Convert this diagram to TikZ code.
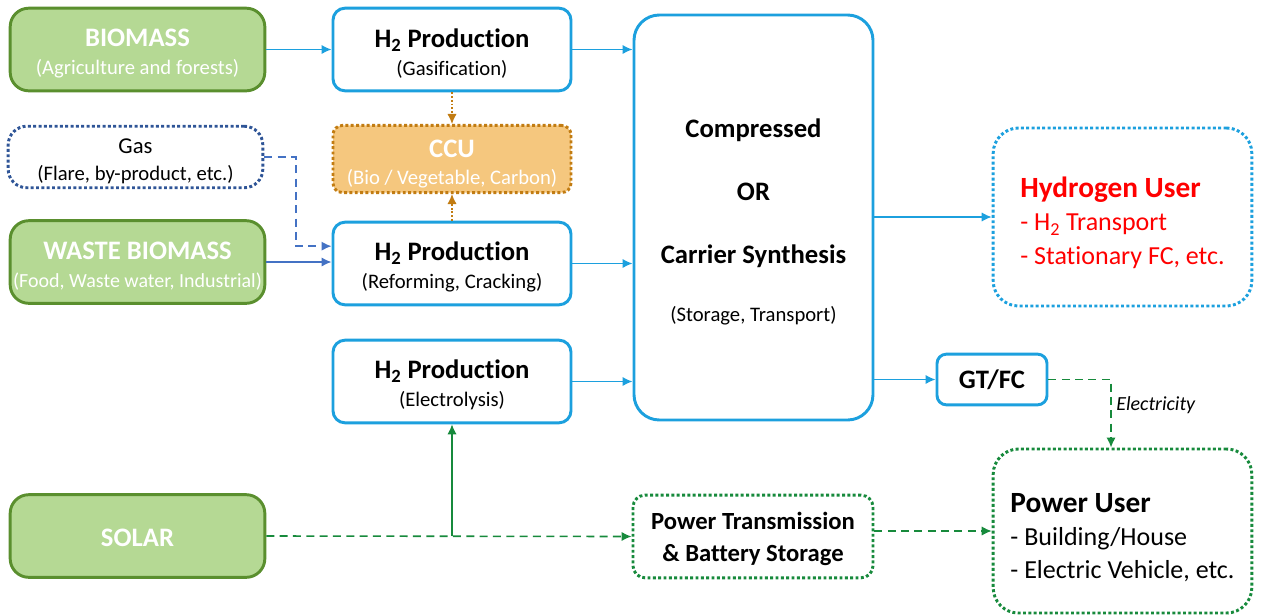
\documentclass[tikz,border=0pt]{standalone}
\usepackage{fontspec}
\setmainfont{Carlito}[Ligatures=NoCommon]
\usepackage{tikz}
\usetikzlibrary{arrows.meta,positioning}
\definecolor{leaf}{HTML}{B5D994}
\definecolor{leafdark}{HTML}{5A8F2E}
\definecolor{sky}{HTML}{1CA0DE}
\definecolor{steel}{HTML}{4472C4}
\definecolor{navy}{HTML}{2F5597}
\definecolor{amber}{HTML}{F5C77E}
\definecolor{amberdark}{HTML}{C27C12}
\definecolor{grid}{HTML}{178A3C}
\definecolor{alert}{HTML}{FF0000}
\newcommand{\Htwo}{H\textsubscript{2}}
\newcommand{\TitleFont}{\bfseries\fontsize{20}{21}\selectfont}
\newcommand{\SubFont}{\fontsize{15.5}{21}\selectfont}
% invisible strut on a first line, pushes the block a little down
\newcommand{\Drop}[1]{\rule{0pt}{#1}}
\tikzset{
  SourceBox/.style={
    draw=leafdark, fill=leaf, line width=2.2pt,
    rounded corners=14pt, text=white, align=center,
    minimum width=191pt, minimum height=62pt, font=\SubFont
  },
  ProcBox/.style={
    draw=sky, fill=white, line width=2.2pt,
    rounded corners=9pt, align=center,
    minimum width=178.5pt, minimum height=62pt, font=\SubFont
  },
  DotBox/.style={
    fill=white, line width=2.2pt, dash pattern=on 2.2pt off 1.8pt,
    rounded corners=14pt, align=center, font=\SubFont
  },
  UserBox/.style={
    DotBox, rounded corners=19pt, align=left,
    minimum width=194pt, font=\fontsize{19.5}{25}\selectfont
  },
  FlowArrow/.style={draw=sky, line width=1.2pt, -{Latex[length=7.5pt,width=7pt]}},
  GasArrow/.style={draw=steel, line width=1.2pt, -{Latex[length=7.5pt,width=7pt]}},
  CarbonArrow/.style={draw=amberdark, line width=1.1pt, dash pattern=on 1.4pt off 1.4pt,
    -{Latex[length=7.5pt,width=7pt]}},
  PowerArrow/.style={draw=grid, line width=1.2pt, dash pattern=on 6pt off 4pt,
    -{Latex[length=7.5pt,width=7pt]}}
}

\begin{document}
\begin{tikzpicture}[x=0.75pt, y=-0.75pt]
  \useasboundingbox (0,0) rectangle (1261,615);

  % sources on the left
  \node[SourceBox] (bio) at (137.5,49.5) {\Drop{19.5pt}{\TitleFont BIOMASS}\\(Agriculture and forests)};
  \node[DotBox, draw=navy, minimum width=191pt, minimum height=43.5pt]
    (gas) at (135.5,157) {\Drop{17pt}{\fontsize{17}{20}\selectfont Gas}\\[-1pt](Flare, by-product, etc.)};
  \node[SourceBox, inner xsep=0pt] (waste) at (137.5,262)
    {\Drop{19.5pt}{\TitleFont WASTE BIOMASS}\\{\fontsize{15}{21}\selectfont (Food, Waste water, Industrial)}};
  \node[SourceBox] (solar) at (137.5,536) {\Drop{16pt}\TitleFont SOLAR};

  % hydrogen production
  \node[ProcBox] (gasif) at (452,49.5) {\Drop{19.5pt}{\TitleFont \Htwo{} Production}\\(Gasification)};
  \node[DotBox, draw=amberdark, fill=amber, text=white, rounded corners=7pt,
    minimum width=178.5pt, minimum height=43.5pt]
    (ccu) at (452,159) {\Drop{21pt}{\TitleFont CCU}\\[-1pt](Bio / Vegetable, Carbon)};
  \node[ProcBox] (reform) at (452,263.5) {\Drop{19.5pt}{\TitleFont \Htwo{} Production}\\(Reforming, Cracking)};
  \node[ProcBox] (elec) at (452,381.5) {\Drop{19.5pt}{\TitleFont \Htwo{} Production}\\(Electrolysis)};

  % storage / carrier
  \node[ProcBox, rounded corners=19pt, minimum width=179.25pt, minimum height=303.75pt,
    font=\TitleFont] (store) at (753.5,217.5)
    {\Drop{21pt}Compressed\\[26pt]OR\\[26pt]Carrier Synthesis\\[23pt]{\SubFont\mdseries (Storage, Transport)}};
  \node[ProcBox, rounded corners=7pt, minimum width=82.5pt, minimum height=38pt]
    (gtfc) at (992,379.5) {\TitleFont GT/FC};
  \node[DotBox, draw=grid, minimum width=180pt, minimum height=62pt, rounded corners=9pt,
    font=\bfseries\fontsize{18.5}{24}\selectfont]
    (ptrans) at (753,536.5) {\Drop{16pt}Power Transmission\\\& Battery Storage};

  % users
  \node[UserBox, draw=sky, text=alert, minimum height=133.5pt] (huser) at (1122.5,217)
    {\Drop{24pt}{\bfseries\fontsize{22}{25}\selectfont Hydrogen User}\\- \Htwo{} Transport\\- Stationary FC, etc.};
  \node[UserBox, draw=grid, minimum height=123pt] (puser) at (1122.5,531)
    {\Drop{24pt}{\bfseries\fontsize{22}{25}\selectfont Power User}\\- Building/House\\- Electric Vehicle, etc.};

  % hydrogen flows
  \draw[FlowArrow] (bio) -- (gasif);
  \draw[FlowArrow] (gasif.east) -- (gasif.east -| store.west);
  \draw[FlowArrow] (reform.east) -- (reform.east -| store.west);
  \draw[FlowArrow] (elec.east) -- (elec.east -| store.west);
  \draw[FlowArrow] (store.east |- huser.west) -- (huser.west);
  \draw[FlowArrow] (store.east |- gtfc.west) -- (gtfc.west);
  \draw[GasArrow] (waste.east) -- (waste.east -| reform.west);
  \coordinate (gasbend) at (296,157);
  \draw[GasArrow, dash pattern=on 6pt off 4pt] (gas.east) -- (gasbend) |- ([yshift=13pt]reform.west);

  % carbon capture
  \draw[CarbonArrow] (gasif.south) -- (ccu.north);
  \draw[CarbonArrow] (reform.north) -- (ccu.south);

  % electricity
  \coordinate (tap) at (elec.south |- solar.east);
  \draw[PowerArrow] (solar.east) -- (ptrans.west);
  \draw[draw=grid, line width=1.2pt, -{Latex[length=7.5pt,width=7pt]}] (tap) -- (elec.south);
  \draw[PowerArrow] (puser.west -| ptrans.east) -- (puser.west);
  \draw[PowerArrow] (gtfc.east) -| ([xshift=-8.6pt]puser.north)
    node[pos=0.69, right, font=\itshape\fontsize{15}{18}\selectfont] {Electricity};
\end{tikzpicture}
\end{document}
